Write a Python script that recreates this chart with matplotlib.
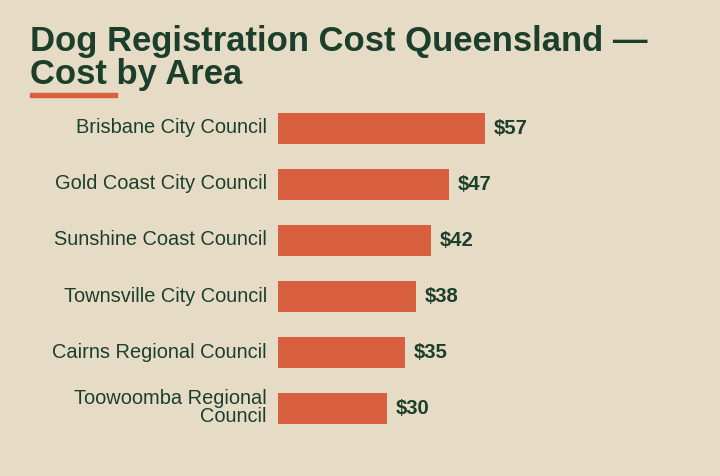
import matplotlib
matplotlib.use("Agg")
import matplotlib.pyplot as plt
from matplotlib.patches import Rectangle
from matplotlib.transforms import ScaledTranslation

categories = ["Brisbane City Council", "Gold Coast City Council", "Sunshine Coast Council",
              "Townsville City Council", "Cairns Regional Council", "Toowoomba Regional\nCouncil"]
values = [57, 47, 42, 38, 35, 30]
value_labels = ["$57", "$47", "$42", "$38", "$35", "$30"]
title = "Dog Registration Cost Queensland —\nCost by Area"

BG = "#E6DCC6"
BAR = "#D9603E"
DARK = "#1C3F2C"

plt.rcParams['font.family'] = ['Liberation Sans', 'DejaVu Sans']

W, H = 720, 476
fig = plt.figure(figsize=(W/100, H/100), dpi=100, facecolor=BG)

ax_left, ax_right = 278, 700
ax_top, ax_bot = 100.5, 436.5
ax = fig.add_axes([ax_left/W, 1-ax_bot/H, (ax_right-ax_left)/W, (ax_bot-ax_top)/H])
ax.set_facecolor(BG)
px_per_unit = 207/57
ax.set_xlim(0, (ax_right-ax_left)/px_per_unit)
n = len(categories)
ypos = list(range(n))
ax.set_ylim(n-0.5, -0.5)
ax.barh(ypos, values, height=0.555, color=BAR)
for y, v, lab in zip(ypos, values, value_labels):
    ax.annotate(lab, (v, y), xytext=(9, 0), textcoords="offset pixels",
                va="center", ha="left", fontsize=14.6, fontweight="bold", color=DARK)
ax.set_yticks(ypos)
ax.set_yticklabels(categories, fontsize=14.4, color=DARK, linespacing=0.9)
ax.tick_params(axis='y', length=0, pad=8)
shift = ScaledTranslation(0, 2.5/100, fig.dpi_scale_trans)
for t in ax.get_yticklabels():
    t.set_transform(t.get_transform() + shift)
ax.set_xticks([])
for s in ax.spines.values():
    s.set_visible(False)

fig.text(30/W, 1-25/H, title, ha="left", va="top", fontsize=24.9, fontweight="bold",
         color=DARK, linespacing=1.0)
fig.patches.append(Rectangle((30/W, 1-97/H), 87/W, 4/H, transform=fig.transFigure,
                             color=BAR, figure=fig))

fig.savefig("out.png", dpi=100, facecolor=BG)
